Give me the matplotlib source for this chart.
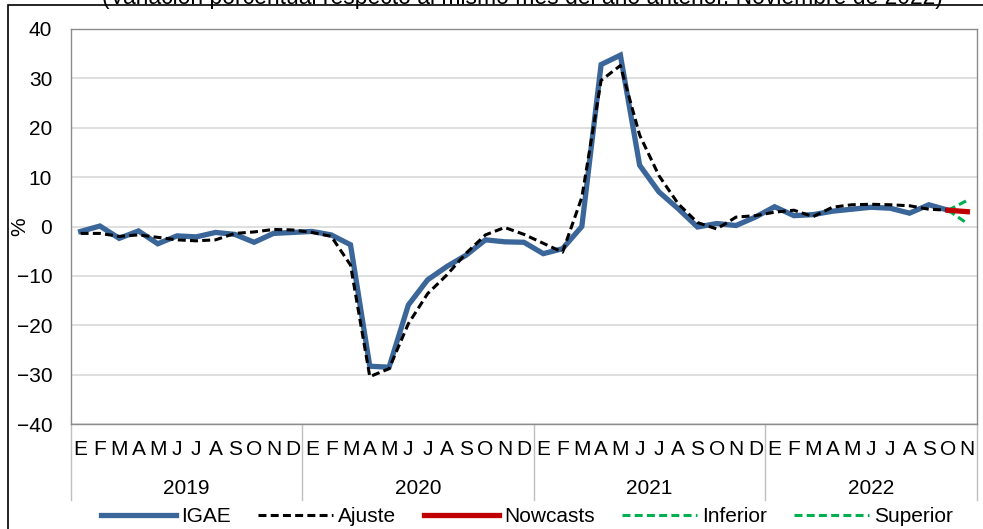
import matplotlib.pyplot as plt
from matplotlib.patches import Rectangle
from matplotlib.lines import Line2D

plt.rcParams['font.family'] = ['Liberation Sans', 'DejaVu Sans']

months = ["E", "F", "M", "A", "M", "J", "J", "A", "S", "O", "N", "D"]
years = ["2019", "2020", "2021", "2022"]
n_months = 47  # Ene 2019 - Nov 2022

# IGAE, variacion anual (%), Ene 2019 - Oct 2022
igae = [-1.0, 0.1, -2.4, -0.9, -3.5, -1.9, -2.1, -1.2, -1.6, -3.2, -1.4, -1.2,
        -1.0, -1.7, -3.7, -28.3, -28.5, -15.9, -10.8, -8.1, -5.8, -2.7, -3.1, -3.2,
        -5.5, -4.5, 0.0, 32.8, 34.7, 12.4, 7.0, 3.6, -0.1, 0.6, 0.2, 1.9,
        4.0, 2.2, 2.4, 3.1, 3.5, 3.9, 3.7, 2.7, 4.4, 3.3]
ajuste = [-1.4, -1.4, -2.0, -1.7, -2.2, -2.7, -2.9, -2.7, -1.4, -1.1, -0.6, -0.7,
          -1.2, -2.0, -7.8, -30.4, -28.8, -19.7, -13.6, -9.8, -5.4, -1.7, -0.2, -1.6,
          -3.4, -5.2, 5.9, 29.6, 32.6, 18.5, 10.3, 4.6, 0.8, -0.5, 1.9, 2.2,
          2.9, 3.3, 2.0, 3.9, 4.4, 4.5, 4.4, 4.2, 3.5, 3.3]
# Oct 2022 -> Nov 2022
nowcast = [3.3, 3.0]
inferior = [3.3, 0.6]
superior = [3.3, 5.3]

c_igae = "#3A6699"
c_now = "#C00000"
c_band = "#00B050"
dash = (0, (2.6, 1.4))
fs = 15

fig = plt.figure(figsize=(9.83, 5.29), dpi=100)
W, H = 983, 529
ax = fig.add_axes([71 / W, 1 - 424 / H, (977 - 71) / W, (424 - 29) / H])

x_hist = [i + 0.5 for i in range(len(igae))]
x_now = [len(igae) - 0.5, len(igae) + 0.5]

ax.plot(x_hist, igae, color=c_igae, lw=3.8, solid_joinstyle='miter', zorder=3)
ax.plot(x_hist, ajuste, color="black", lw=2.2, ls=dash, zorder=4)
ax.plot(x_now, inferior, color=c_band, lw=2.2, ls=dash, zorder=4)
ax.plot(x_now, superior, color=c_band, lw=2.2, ls=dash, zorder=4)
ax.plot(x_now, nowcast, color=c_now, lw=3.8, zorder=5)

ax.set_xlim(0, n_months)
ax.set_ylim(-40, 40)
ax.set_yticks(range(-40, 41, 10))
ax.yaxis.grid(True, color="#D9D9D9", lw=1.2)
ax.set_axisbelow(True)
ax.tick_params(axis='y', length=0, pad=13.5, labelsize=fs)
ax.set_ylabel("%", fontsize=fs, va='center')
ax.yaxis.set_label_coords(-51 / 906, 0.5)

month_labels = [months[i % 12] for i in range(n_months)]
ax.set_xticks([i + 0.5 for i in range(n_months)])
ax.set_xticklabels(month_labels)
ax.tick_params(axis='x', length=0, pad=11.5, labelsize=fs)

for s in ax.spines.values():
    s.set_color("#8C8C8C")
    s.set_linewidth(1.0)

# separadores de año y etiquetas
for k in range(len(years) + 1):
    xb = min(k * 12, n_months)
    ax.plot([xb, xb], [0, -(500 - 424) / (424 - 29)], color="#BFBFBF", lw=1,
            transform=ax.get_xaxis_transform(), clip_on=False)
for k, yr in enumerate(years):
    xc = (k * 12 + min((k + 1) * 12, n_months)) / 2
    ax.text(xc, -(488 - 424) / (424 - 29), yr, ha='center', va='center', fontsize=fs,
            transform=ax.get_xaxis_transform())

fig.text(522 / W, 1 - 4 / H, "(Variación porcentual respecto al mismo mes del año anterior. Noviembre de 2022)",
         ha='center', va='baseline', fontsize=16.5)

fig.patches.append(Rectangle((8 / W, -0.1), 1.2, 1.1 - 5 / H, transform=fig.transFigure,
                             fill=False, ec="black", lw=1.2))

handles = [
    Line2D([], [], color=c_igae, lw=3.8),
    Line2D([], [], color="black", lw=2.2, ls=dash),
    Line2D([], [], color=c_now, lw=3.8),
    Line2D([], [], color=c_band, lw=2.2, ls=dash),
    Line2D([], [], color=c_band, lw=2.2, ls=dash),
]
fig.legend(handles, ["IGAE", "Ajuste", "Nowcasts", "Inferior", "Superior"], loc='center',
           bbox_to_anchor=(527 / W, 12 / H), ncol=5, frameon=False, fontsize=fs,
           handlelength=3.6, handletextpad=0.25, columnspacing=1.3, borderpad=0)

fig.savefig("out.png", dpi=100)
